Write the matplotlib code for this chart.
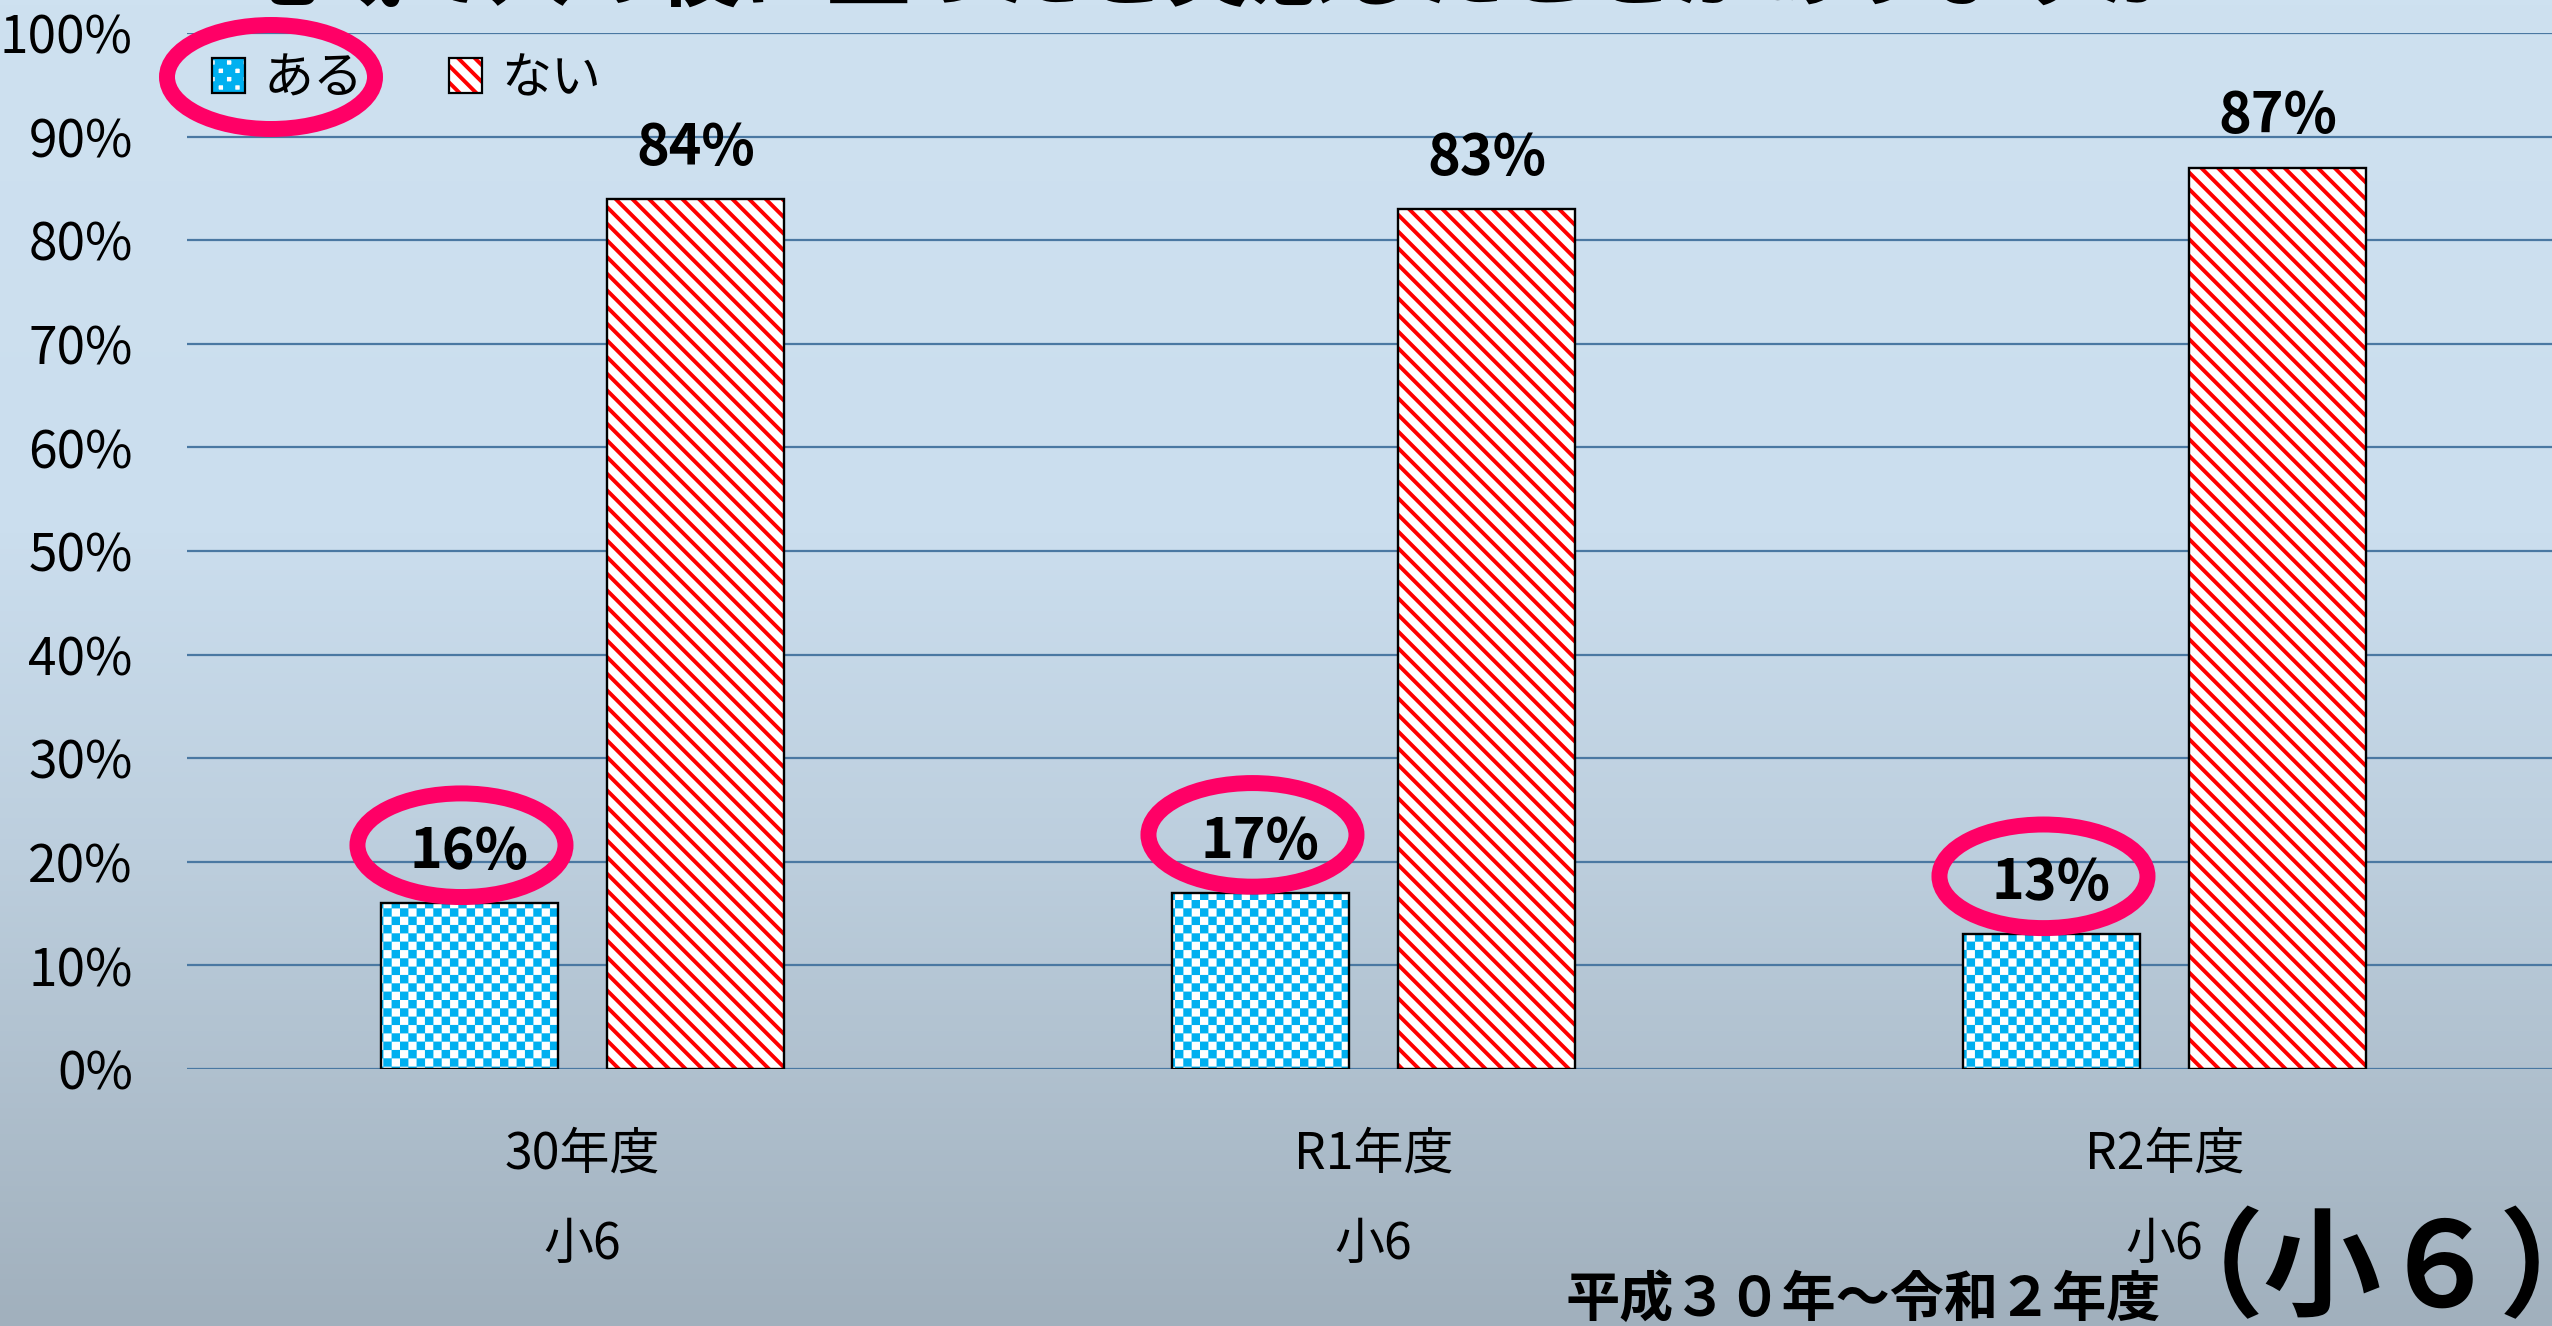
import warnings
import numpy as np
import matplotlib
matplotlib.use('Agg')
import matplotlib.pyplot as plt
import matplotlib.hatch as mhatch
from matplotlib.path import Path
from matplotlib.patches import Ellipse, Patch
from matplotlib.legend_handler import HandlerTuple
from matplotlib.colors import LinearSegmentedColormap

warnings.filterwarnings('ignore')

# data
years = ['30年度', 'R1年度', 'R2年度']
grade = ['小6', '小6', '小6']
aru = [16, 17, 13]   # ある
nai = [84, 83, 87]   # ない
yticks = list(range(0, 101, 10))
title = '地域で人の役に立ったと実感したことがありますか？'

plt.rcParams['font.family'] = ['Noto Sans CJK JP', 'DejaVu Sans']
plt.rcParams['hatch.linewidth'] = 2.8

BLUE = '#00B0F0'
RED = '#FF0000'
PINK = '#FF0066'
GRID = '#4A78A2'
STRIPE = '\\\\'


class CheckerHatch(mhatch.HatchPatternBase):
    """checkerboard fill, used with 'c' in the hatch string"""
    filled = True

    def __init__(self, hatch, density):
        self.num_cells = hatch.count('c') * density * 2
        self.num_vertices = self.num_cells ** 2 // 2 * 5

    def set_vertices_and_codes(self, vertices, codes):
        n = self.num_cells
        s = 1.0 / n
        sq = np.array([[0, 0], [s, 0], [s, s], [0, s], [0, 0]])
        cells = [(i, j) for i in range(n) for j in range(n) if (i + j) % 2 == 0]
        vertices[:] = np.concatenate([sq + [i * s, j * s] for i, j in cells])
        codes[:] = np.tile([Path.MOVETO, Path.LINETO, Path.LINETO,
                            Path.LINETO, Path.CLOSEPOLY], len(cells))


mhatch._hatch_types.append(CheckerHatch)


def hatch_lw(patches, lw):
    for p in patches:
        if hasattr(p, 'set_hatch_linewidth'):
            p.set_hatch_linewidth(lw)


W, H = 2552, 1326
fig = plt.figure(figsize=(W / 100, H / 100), dpi=100)

# gradient background
bg = fig.add_axes([0, 0, 1, 1], zorder=-1)
bg.axis('off')
cmap = LinearSegmentedColormap.from_list(
    'bg', [(0, '#CEE1F0'), (0.4, '#CBDEEE'), (0.65, '#BCCEDD'), (1, '#A1B0BD')])
bg.imshow(np.linspace(0, 1, 256)[:, None], aspect='auto', cmap=cmap,
          extent=[0, 1, 0, 1])

ax = fig.add_axes([187 / W, 257 / H, 2373 / W, 1036 / H])
ax.patch.set_alpha(0)

x = np.arange(len(years))
bw = 0.224
off = 0.143

b1 = ax.bar(x - off, aru, bw, color='white', edgecolor=BLUE, hatch='c',
            linewidth=0, zorder=2)
b2 = ax.bar(x + off, nai, bw, color='white', edgecolor=RED, hatch=STRIPE,
            linewidth=0, zorder=2)
hatch_lw(b1, 0.1)
hatch_lw(b2, 2.8)
ax.bar(x - off, aru, bw, fill=False, edgecolor='black', linewidth=1.7, zorder=3)
ax.bar(x + off, nai, bw, fill=False, edgecolor='black', linewidth=1.7, zorder=3)

for xs, vals in ((x - off, aru), (x + off, nai)):
    for xi, v in zip(xs, vals):
        ax.text(xi, v + 3.4, f'{v}%', ha='center', va='baseline',
                fontsize=40, fontweight='bold', zorder=5)

for xi, v in zip(x - off, aru):
    ax.add_patch(Ellipse((xi - 0.01, v + 5.6), 0.263, 10.0, fill=False,
                         edgecolor=PINK, linewidth=11.5, zorder=4, clip_on=False))

ax.set_xlim(-0.5, 2.5)
ax.set_ylim(0, 100)
ax.set_yticks(yticks, labels=[f'{v}%' for v in yticks])
ax.set_xticks(x, labels=[f'{a}\n{b}' for a, b in zip(years, grade)])
ax.yaxis.grid(True, color=GRID, linewidth=1.6)
ax.set_axisbelow(True)
for s in ax.spines.values():
    s.set_visible(False)
ax.tick_params(axis='y', length=0, pad=39, labelsize=37)
ax.tick_params(axis='x', length=0, pad=43, labelsize=36)
for lab in ax.get_xticklabels():
    lab.set_linespacing(1.95)

# legend
h1 = (Patch(facecolor='white', edgecolor=BLUE, hatch='c', linewidth=0),
      Patch(fill=False, edgecolor='black', linewidth=1.6))
h2 = (Patch(facecolor='white', edgecolor=RED, hatch=STRIPE, linewidth=0),
      Patch(fill=False, edgecolor='black', linewidth=1.6))
hatch_lw([h1[0]], 0.1)
hatch_lw([h2[0]], 2.8)
fig.legend([h1, h2], ['ある', 'ない'],
           handler_map={tuple: HandlerTuple(ndivide=1, pad=0)},
           loc='center left', bbox_to_anchor=(212 / W, 1 - 79 / H),
           ncol=2, frameon=False, fontsize=36, handlelength=0.66,
           handleheight=0.72, handletextpad=0.38, columnspacing=1.7,
           borderpad=0, borderaxespad=0)
fig.add_artist(Ellipse((271 / W, 1 - 77 / H), 208 / W, 104 / H,
                       transform=fig.transFigure, fill=False,
                       edgecolor=PINK, linewidth=11.5))

# title (cut off at the top edge) and footer
fig.text(0.49, 1 + 1 / H, title, ha='center', va='baseline',
         fontsize=61, fontweight='bold')
fig.text(1566 / W, 10 / H, '平成３０年～令和２年度', ha='left',
         va='baseline', fontsize=39, fontweight='bold')
fig.text(2146 / W, 19 / H, '（小６）', ha='left', va='baseline',
         fontsize=85, fontweight='bold')

fig.savefig('out.png', dpi=100)
